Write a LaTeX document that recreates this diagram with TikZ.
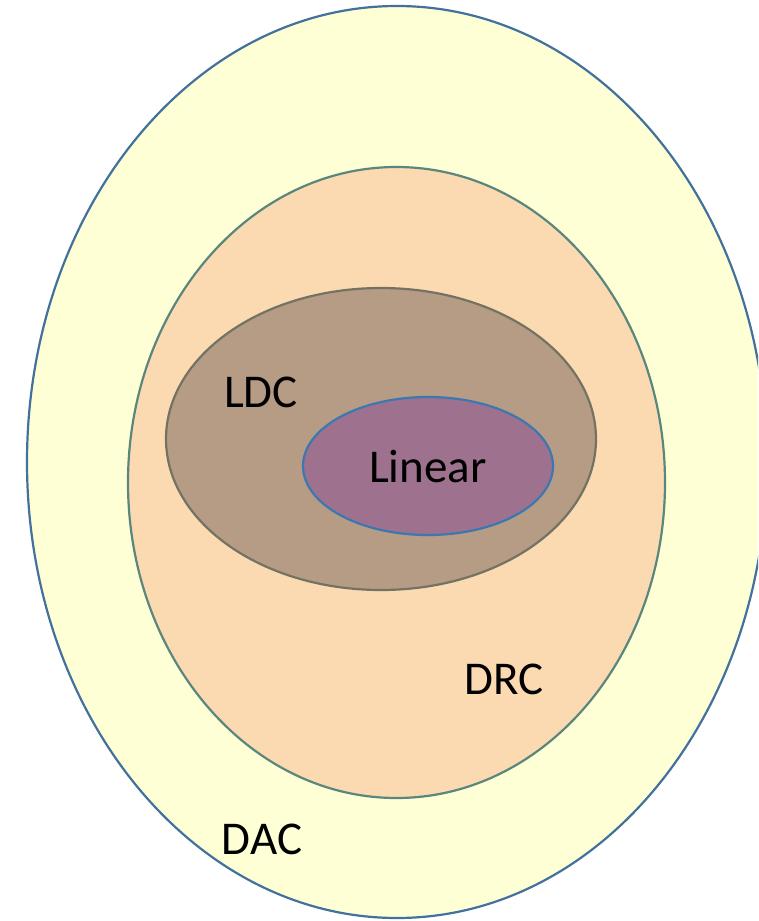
\documentclass[tikz,border=0pt]{standalone}
\usepackage{fontspec}
\setmainfont{Carlito}
\definecolor{dacfill}{RGB}{255,255,213}
\definecolor{dacline}{RGB}{65,113,156}
\definecolor{drcfill}{RGB}{252,218,177}
\definecolor{drcline}{RGB}{90,135,125}
\definecolor{ldcfill}{RGB}{182,155,133}
\definecolor{ldcline}{RGB}{115,115,100}
\definecolor{linfill}{RGB}{158,114,143}
\definecolor{linline}{RGB}{60,120,175}
\begin{document}
\begin{tikzpicture}[x=1pt,y=-1pt,
  setshape/.style={line width=2.2pt},
  lbl/.style={font=\fontsize{47}{56}\selectfont, text=black, inner sep=0pt, anchor=center}]
\useasboundingbox (0,0) rectangle (758,921);
\begin{scope}
\clip (0,0) rectangle (758,921);
\draw[setshape, fill=dacfill, draw=dacline] (397,462) ellipse [x radius=370, y radius=456];
\draw[setshape, fill=drcfill, draw=drcline] (396.5,482.5) ellipse [x radius=268.5, y radius=315.5];
\draw[setshape, fill=ldcfill, draw=ldcline] (381,439) ellipse [x radius=215, y radius=151];
\draw[setshape, fill=linfill, draw=linline] (428,466) ellipse [x radius=125, y radius=69];
\end{scope}
\node[lbl] (ldc) at (261,392.5) {\vphantom{L}LDC};
\node[lbl] (lin) at (428,466.5) {\vphantom{L}Linear};
\node[lbl] (drc) at (504,679.5) {\vphantom{L}DRC};
\node[lbl] (dac) at (262,839.5) {\vphantom{L}DAC};
\end{tikzpicture}
\end{document}
